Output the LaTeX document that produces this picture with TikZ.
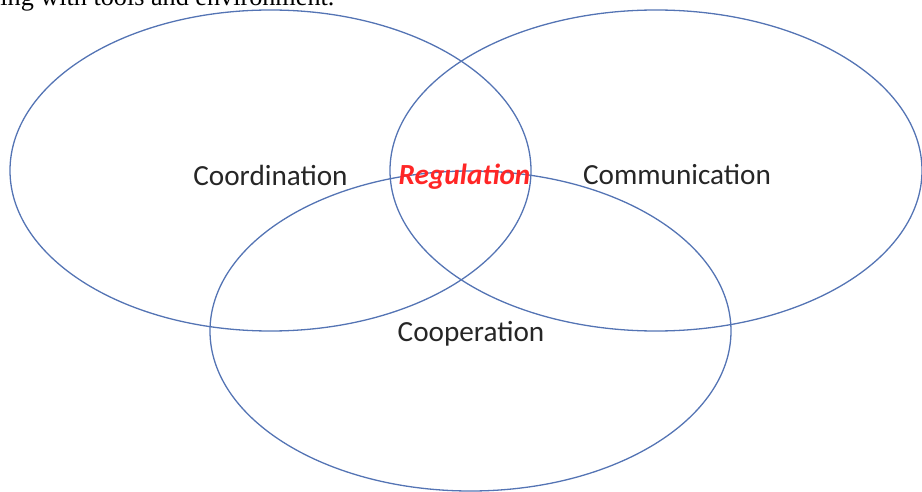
\documentclass[tikz,border=0pt]{standalone}
\usepackage{fontspec}
\setmainfont{Carlito}
\newfontfamily\serifcut{Liberation Serif}
\definecolor{ringblue}{RGB}{84,116,180}
\definecolor{regred}{RGB}{255,38,38}
\begin{document}
\begin{tikzpicture}[x=0.5pt,y=-0.5pt,
  ring/.style={draw=ringblue,line width=0.65pt},
  lab/.style={font=\fontsize{14.6pt}{17pt}\selectfont,text=black!85,inner sep=0pt}]
\useasboundingbox (0,0) rectangle (922,492);
\begin{scope}
\clip (0,0) rectangle (922,492);
\node[anchor=base west,inner sep=0pt,font=\serifcut\fontsize{13.1pt}{15pt}\selectfont] (top) at (0,6) {ing with tools and environment.};
\draw[ring] (270.5,170.5) ellipse [x radius=260.5, y radius=160.5];
\draw[ring] (656,170.5) ellipse [x radius=266, y radius=160.5];
\draw[ring] (470.5,331) ellipse [x radius=260.5, y radius=160];
\end{scope}
\node[lab] (coord) at (270.5,175) {Coordination};
\node[lab] (comm) at (677,175) {Communication};
\node[lab] (coop) at (471,334) {Cooperation};
\node[lab,text=regred,font=\fontsize{14.6pt}{17pt}\selectfont\bfseries\itshape] (reg) at (464.5,177) {Regulation};
\end{tikzpicture}
\end{document}
